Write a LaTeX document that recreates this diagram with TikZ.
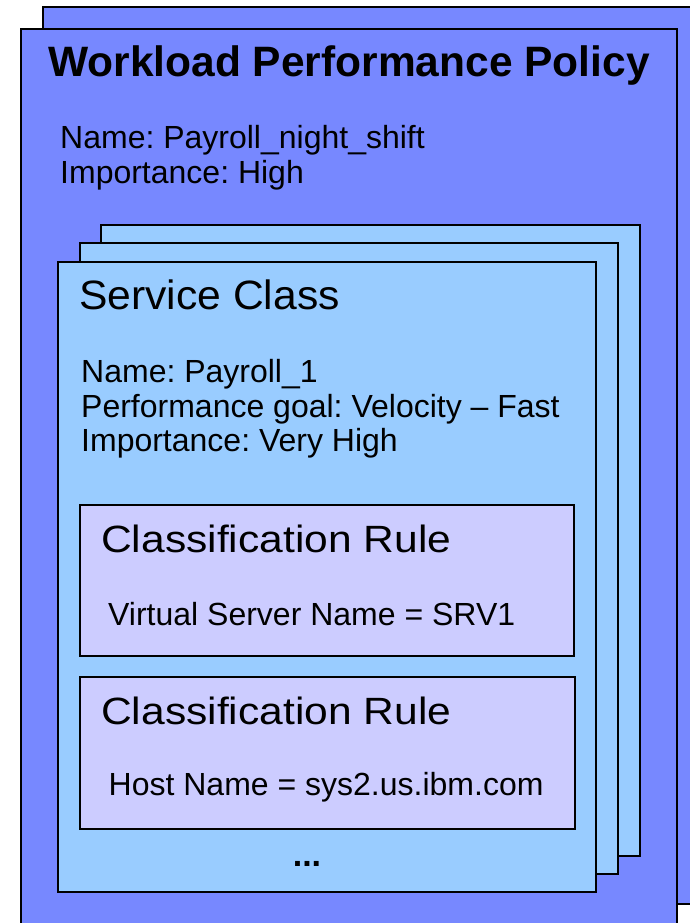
\documentclass[tikz,border=0pt]{standalone}
\usepackage{fontspec}
\setmainfont{Liberation Sans}
\usetikzlibrary{positioning}
\frenchspacing

\definecolor{policyblue}{HTML}{7788FF}
\definecolor{classblue}{HTML}{99CCFF}
\definecolor{rulelilac}{HTML}{CCCCFF}

\begin{document}
\begin{tikzpicture}[x=1pt, y=-1pt,
    page/.style={draw=black, line width=2pt},
    label/.style={anchor=base west, inner sep=0pt, font=\fontsize{32}{35}\selectfont},
    heading/.style={label, font=\fontsize{41}{46}\selectfont\addfontfeature{FakeStretch=1.04}}]
    \clip (0,0) rectangle (690,923);

    % Policy pages
    \filldraw[page, fill=policyblue] (43,7) rectangle (720,904);
    \filldraw[page, fill=policyblue] (21,29) rectangle (677,950);

    \node[label, font=\fontsize{42.5}{46}\bfseries] (policy) at (48,77) {Workload Performance Policy};
    \node[label] (polname) at (60,148) {Name: Payroll\_night\_shift};
    \node[label] (polimp) at (60,183) {Importance: High};

    % Stack of service classes
    \filldraw[page, fill=classblue] (101,225) rectangle (640,856);
    \filldraw[page, fill=classblue] (80,243) rectangle (618,874);
    \filldraw[page, fill=classblue] (58,262) rectangle (596,892);

    \node[heading] (class) at (79,309) {Service Class};
    \node[label] (clname) at (81,382) {Name: Payroll\_1};
    \node[label] (clgoal) at (81,417) {Performance goal: Velocity -- Fast};
    \node[label] (climp) at (81,451) {Importance: Very High};

    % Classification rules
    \filldraw[page, fill=rulelilac] (80,505) rectangle (574,656);
    \node[heading, font=\fontsize{38}{42}\selectfont\addfontfeature{FakeStretch=1.12}] (ruleA) at (101,552) {Classification Rule};
    \node[label] (ruleAtext) at (108,625) {Virtual Server Name = SRV1};

    \filldraw[page, fill=rulelilac] (80,677) rectangle (575,829);
    \node[heading, font=\fontsize{38}{42}\selectfont\addfontfeature{FakeStretch=1.12}] (ruleB) at (101,724) {Classification Rule};
    \node[label] (ruleBtext) at (108.5,795) {Host Name = sys2.us.ibm.com};

    \node[label, anchor=base, font=\fontsize{34}{35}\bfseries] (more) at (307,866) {...};
\end{tikzpicture}
\end{document}
